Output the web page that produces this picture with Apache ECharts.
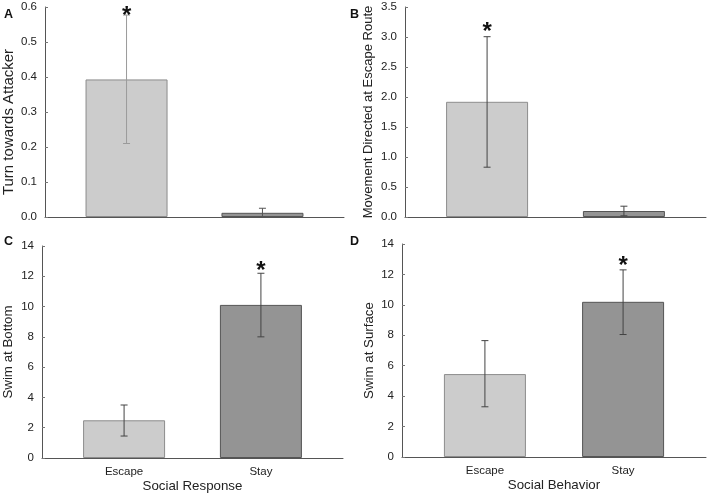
<!DOCTYPE html>
<html>
<head>
<meta charset="utf-8">
<script src="https://cdn.jsdelivr.net/npm/echarts@6/dist/echarts.min.js"></script>
<style>
html,body{margin:0;padding:0;background:#fff;}
#chart{width:708px;height:494px;}
</style>
</head>
<body>
<div id="chart"></div>
<script>
// ---- data ----
var categories = ['Escape', 'Stay'];

var panelLetters = ['A', 'B', 'C', 'D'];
var yTitles = ['Turn towards Attacker', 'Movement Directed at Escape Route', 'Swim at Bottom', 'Swim at Surface'];
var xTitles = ['', '', 'Social Response', 'Social Behavior'];

var meanA = [0.393, 0.012];
var upperA = [0.577, 0.025];
var lowerA = [0.21, 0.0];
var starA = [true, false];

var meanB = [1.92, 0.10];
var upperB = [3.005, 0.18];
var lowerB = [0.83, 0.02];
var starB = [true, false];

var meanC = [2.49, 10.11];
var upperC = [3.5, 12.2];
var lowerC = [1.45, 8.0];
var starC = [false, true];

var meanD = [5.45, 10.2];
var upperD = [7.65, 12.3];
var lowerD = [3.3, 8.05];
var starD = [false, true];

var yMax = [0.6, 3.5, 14, 14];
var yInterval = [0.1, 0.5, 2, 2];
var yDecimals = [1, 1, 0, 0];

// ---- layout ----
var FONT = '"Liberation Sans", Arial, sans-serif';
var grids = [
  {left: 44, right: 364, top: 7, bottom: 277},
  {left: 405, right: 2, top: 7, bottom: 277},
  {left: 42, right: 365, top: 246, bottom: 36},
  {left: 402, right: 2, top: 244, bottom: 37}
];
var nameGaps = [29, 30, 27, 26];
var nameSizes = [15, 13, 13.3, 13.3];
var namePads = [[0, 20, 0, 0], [0, 0, 0, 0], [0, 0, 0, 0], [0, 0, 0, 0]];
var starShift = [1, -4.5, -2, -3.2];
var barFill = ['#cccccc', '#949494'];
var barBorder = ['#8c8c8c', '#555555'];
var errColor = [['#9a9a9a', '#555555'], ['#444444', '#444444'], ['#444444', '#444444'], ['#444444', '#444444']];

var means = [meanA, meanB, meanC, meanD];
var uppers = [upperA, upperB, upperC, upperD];
var lowers = [lowerA, lowerB, lowerC, lowerD];
var stars = [starA, starB, starC, starD];

var xAxes = [], yAxes = [], series = [];
for (var p = 0; p < 4; p++) {
  xAxes.push({
    type: 'value', gridIndex: p, min: -0.6, max: 1.6,
    axisLine: {show: true, onZero: false, lineStyle: {color: '#555', width: 1}},
    axisTick: {show: false},
    splitLine: {show: false},
    axisLabel: {
      show: p >= 2, customValues: [0, 1], color: '#222', fontFamily: FONT, fontSize: 11.5, margin: 8,
      formatter: function (v) { return categories[Math.round(v)]; }
    },
    name: xTitles[p], nameLocation: 'middle', nameGap: 22,
    nameTextStyle: {color: '#222', fontFamily: FONT, fontSize: 13.3}
  });
  (function (p) {
    yAxes.push({
      type: 'value', gridIndex: p, min: 0, max: yMax[p], interval: yInterval[p],
      axisLine: {show: true, onZero: false, lineStyle: {color: '#555', width: 1}},
      axisTick: {show: true, inside: true, length: 3, lineStyle: {color: '#777'}},
      splitLine: {show: false},
      axisLabel: {color: '#222', fontFamily: FONT, fontSize: 11.5, margin: 8,
        formatter: function (v) { return v.toFixed(yDecimals[p]); }},
      name: yTitles[p], nameLocation: 'middle', nameGap: nameGaps[p], nameRotate: 90,
      nameTextStyle: {color: '#222', fontFamily: FONT, fontSize: nameSizes[p], padding: namePads[p]}
    });
  })(p);

  var barData = [];
  var errData = [];
  for (var i = 0; i < categories.length; i++) {
    barData.push({value: [i, means[p][i]], itemStyle: {color: barFill[i], borderColor: barBorder[i], borderWidth: 1}});
    errData.push([i, lowers[p][i], uppers[p][i], stars[p][i] ? 1 : 0, p]);
  }
  series.push({
    type: 'bar', xAxisIndex: p, yAxisIndex: p, barWidth: 82, data: barData, silent: true, z: 2
  });
  series.push({
    type: 'custom', xAxisIndex: p, yAxisIndex: p, data: errData, silent: true, z: 5,
    renderItem: function (params, api) {
      var x = api.value(0);
      var lo = api.coord([x, api.value(1)]);
      var hi = api.coord([x, api.value(2)]);
      var star = api.value(3);
      var pi = api.value(4);
      var col = errColor[pi][x];
      var cap = 3.5;
      var children = [
        {type: 'line', shape: {x1: hi[0], y1: hi[1], x2: lo[0], y2: lo[1]}, style: {stroke: col, lineWidth: 1}},
        {type: 'line', shape: {x1: hi[0] - cap, y1: hi[1], x2: hi[0] + cap, y2: hi[1]}, style: {stroke: col, lineWidth: 1}},
        {type: 'line', shape: {x1: lo[0] - cap, y1: lo[1], x2: lo[0] + cap, y2: lo[1]}, style: {stroke: col, lineWidth: 1}}
      ];
      if (star) {
        children.push({type: 'text', x: hi[0], y: hi[1] + starShift[pi], style: {
          text: '*', fill: '#111', font: 'bold 24px ' + FONT, align: 'center', verticalAlign: 'middle'}});
      }
      return {type: 'group', children: children};
    }
  });
}

var letterPos = [[4, 8], [350, 8], [4, 235], [350, 235]];
var graphics = [];
for (var k = 0; k < 4; k++) {
  graphics.push({type: 'text', left: letterPos[k][0], top: letterPos[k][1],
    style: {text: panelLetters[k], fill: '#111', font: 'bold 12.5px ' + FONT}});
}

var chart = echarts.init(document.getElementById('chart'), null, {renderer: 'canvas'});
chart.setOption({
  animation: false,
  backgroundColor: '#fff',
  grid: grids,
  xAxis: xAxes,
  yAxis: yAxes,
  series: series,
  graphic: graphics
});
</script>
</body>
</html>
